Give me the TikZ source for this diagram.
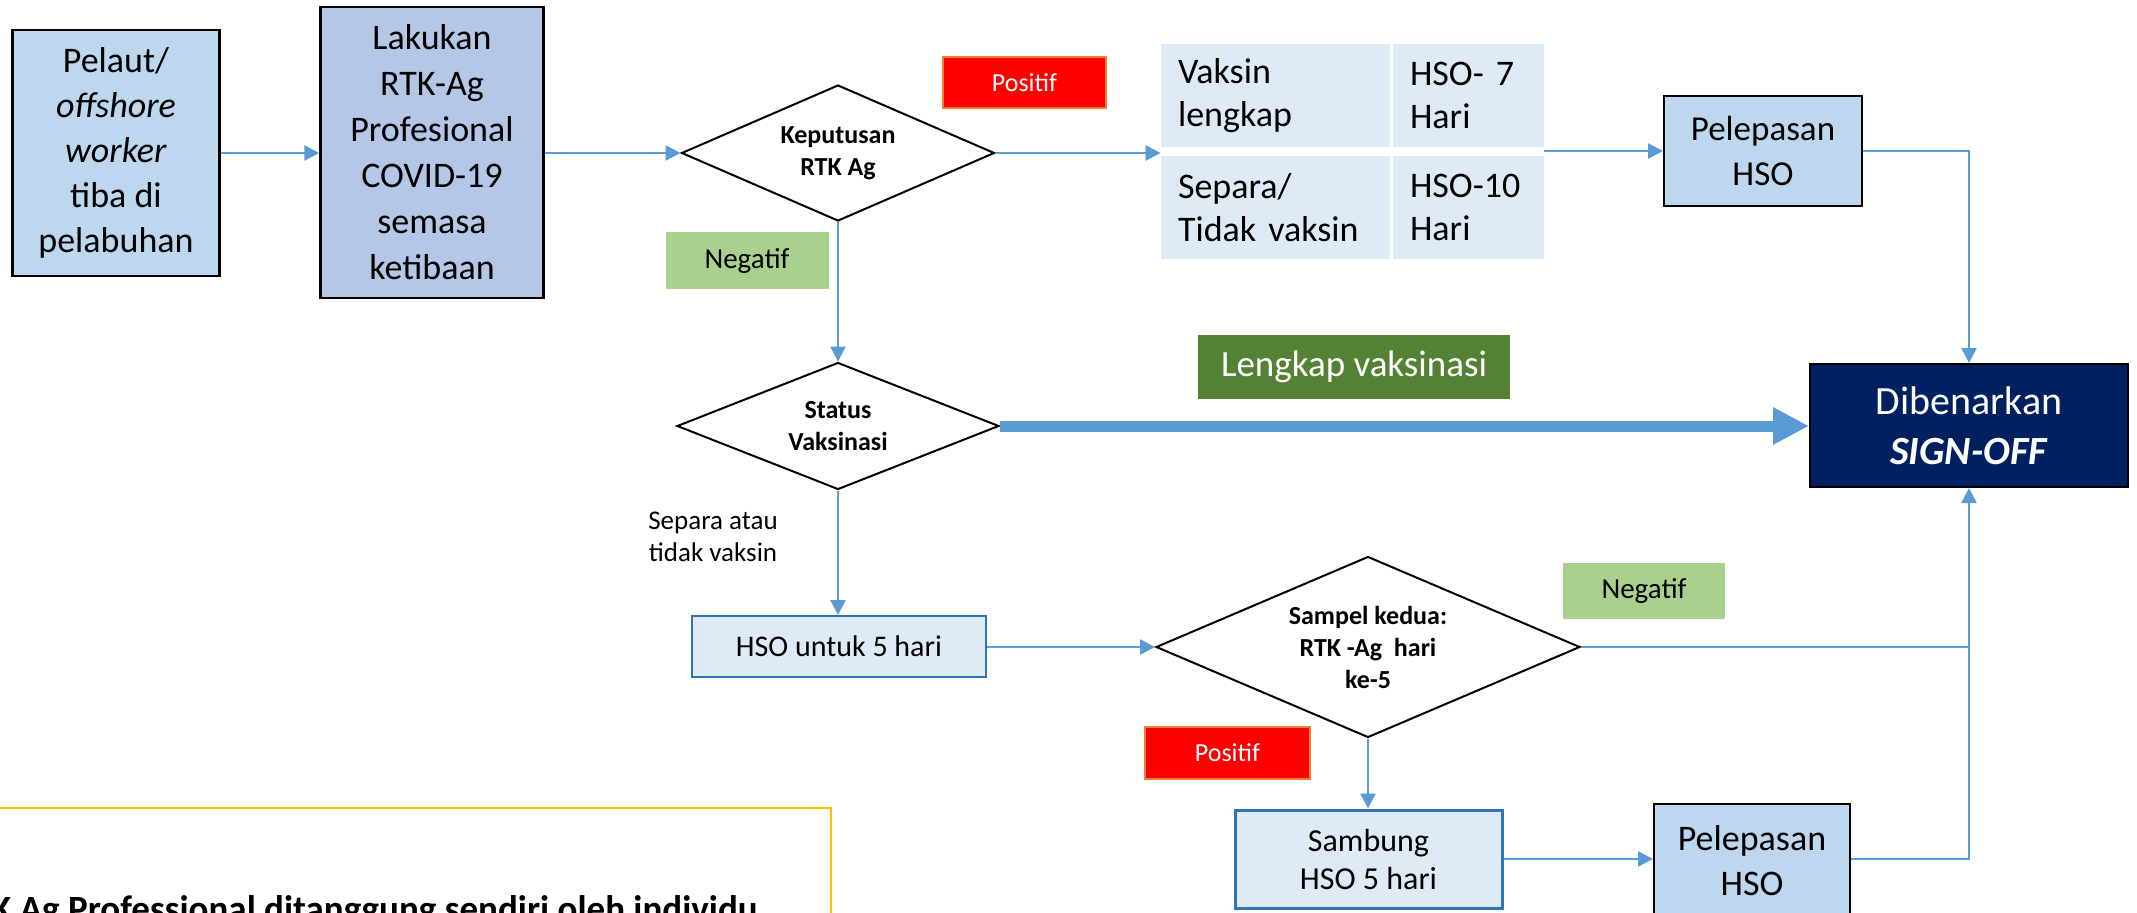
\documentclass[tikz,border=0pt]{standalone}
\usepackage{fontspec}
\setmainfont{Carlito}
\usetikzlibrary{shapes.geometric,arrows.meta,fit}
\definecolor{arr}{HTML}{5B9BD5}
\definecolor{boxA}{HTML}{BDD7EE}
\definecolor{boxB}{HTML}{B4C7E7}
\definecolor{cellC}{HTML}{DEEBF7}
\definecolor{edgeB}{HTML}{2E75B6}
\definecolor{navy}{HTML}{002060}
\definecolor{dgreen}{HTML}{548235}
\definecolor{lgreen}{HTML}{A9D18E}
\definecolor{redF}{HTML}{FF0000}
\definecolor{orangeE}{HTML}{ED7D31}
\definecolor{yel}{HTML}{FFC000}
\newcommand{\fs}[2]{\fontsize{#1}{#2}\selectfont}
\begin{document}
\begin{tikzpicture}[x=1pt,y=-1pt,
  box/.style={rectangle,draw=black,line width=2.5pt,align=center,inner sep=0pt},
  dec/.style={diamond,draw=black,line width=2pt,fill=white,inner sep=0pt,align=center,font=\bfseries\fs{26}{32}},
  tag/.style={rectangle,inner sep=0pt,align=center},
  cell/.style={rectangle,fill=cellC,inner xsep=17pt,inner ysep=0pt,align=left,font=\fs{36}{43}},
  conn/.style={draw=arr,line width=2.5pt,-{Triangle[length=15pt,width=15pt]}},
  wire/.style={draw=arr,line width=2.5pt},
  big/.style={draw=arr,line width=11pt,-{Triangle[length=36pt,width=35pt]}}]
\useasboundingbox (0,0) rectangle (2137,913);
\clip (0,0) rectangle (2137,913);

% boxes
\node[box,fill=boxA,minimum width=207pt,minimum height=246pt,font=\fs{36}{45}] (pel) at (116,153)
  {Pelaut/\\\textit{offshore}\\\textit{worker}\\tiba di\\pelabuhan};
\node[box,fill=boxB,minimum width=223pt,minimum height=291pt,font=\fs{36}{46}] (lak) at (432,152.5)
  {Lakukan\\RTK-Ag\\Profesional\\COVID-19\\semasa\\ketibaan};
\node[dec,shape aspect=2.3,minimum width=313pt,minimum height=136pt] (d1) at (838,153) {Keputusan\\RTK Ag};
\node[tag,fill=redF,draw=orangeE,line width=1.5pt,minimum width=163pt,minimum height=51pt,text=white,font=\fs{26}{30}] (pos1) at (1024.5,82.5) {Positif};
\node[tag,fill=lgreen,minimum width=163pt,minimum height=57pt,font=\fs{29}{33}] (neg1) at (747,260.5) {Negatif};

% table
\node[cell,text width=195pt,minimum height=103pt] (c11) at (1275.5,95.5) {Vaksin\\lengkap};
\node[cell,text width=117pt,minimum height=103pt] (c12) at (1468.5,95.5) {HSO- 7\\Hari};
\node[cell,text width=195pt,minimum height=103pt] (c21) at (1275.5,207.5) {Separa/\\Tidak vaksin};
\node[cell,text width=117pt,minimum height=103pt] (c22) at (1468.5,207.5) {HSO-10\\Hari};
\node[fit=(c11)(c22),inner sep=0pt] (tbl) {};

\node[box,fill=boxA,line width=2pt,minimum width=198pt,minimum height=110pt,font=\fs{35}{45}] (pel1) at (1763,151) {Pelepasan\\HSO};
\node[box,fill=navy,line width=2pt,minimum width=318pt,minimum height=123pt,text=white,font=\fs{40}{50}] (dib) at (1969,425.5)
  {Dibenarkan\\\textbf{\textit{SIGN-OFF}}};
\node[tag,fill=dgreen,minimum width=312pt,minimum height=64pt,text=white,font=\fs{37}{40}] (lv) at (1354,367) {Lengkap vaksinasi};

\node[dec,shape aspect=2.54,minimum width=322pt,minimum height=127pt] (d2) at (838,426) {Status\\Vaksinasi};
\node[tag,font=\fs{27}{32}] (sep) at (713,537) {Separa atau\\tidak vaksin};
\node[box,fill=cellC,draw=edgeB,line width=2pt,minimum width=294pt,minimum height=61pt,font=\fs{30}{36}] (hso5) at (839,646.5) {HSO untuk 5 hari};

\node[dec,shape aspect=2.34,minimum width=424pt,minimum height=181pt] (d3) at (1368,647) {Sampel kedua:\\RTK -Ag\ \ hari\\ke-5};
\node[tag,fill=lgreen,minimum width=162pt,minimum height=56pt,font=\fs{29}{33}] (neg2) at (1644,591) {Negatif};
\node[tag,fill=redF,draw=orangeE,line width=1.5pt,minimum width=165pt,minimum height=52pt,text=white,font=\fs{26}{30}] (pos2) at (1227.5,753) {Positif};
\node[box,fill=cellC,draw=edgeB,line width=3pt,minimum width=267pt,minimum height=98pt,font=\fs{32}{38}] (sam) at (1368.5,859) {Sambung\\HSO 5 hari};
\node[box,fill=boxA,line width=2pt,minimum width=196pt,minimum height=114pt,font=\fs{36}{45}] (pel2) at (1752,861) {Pelepasan\\HSO};

% note box (cut by the page edge)
\node[rectangle,draw=yel,line width=2pt,minimum width=851pt,minimum height=160pt,inner sep=0pt] (note) at (405.5,888) {};
\node[anchor=base west,inner sep=0pt,font=\bfseries\fs{37}{44}] (notetxt) at (-9,921) {K Ag Professional ditanggung sendiri oleh individu};

% connectors
\coordinate (j1) at (1969,151);
\coordinate (j2) at (1969,647);
\coordinate (j3) at (1969,859);
\draw[conn] (pel.east |- 0,153) -- (lak.west |- 0,153);
\draw[conn] (lak.east |- d1.west) -- (d1.west);
\draw[conn] (d1.east) -- (tbl.west |- d1.east);
\draw[conn] (tbl.east |- pel1.west) -- (pel1.west);
\draw[conn] (pel1.east) -- (j1) -- (dib.north);
\draw[conn] (d1.south) -- (d2.north);
\draw[big] (d2.east) -- (dib.west |- d2.east);
\draw[conn] (d2.south) -- (d2.south |- hso5.north);
\draw[conn] (hso5.east |- d3.west) -- (d3.west);
\draw[wire] (d3.east) -- (j2);
\draw[conn] (d3.south) -- (d3.south |- sam.north);
\draw[conn] (sam.east) -- (sam.east -| pel2.west);
\draw[conn] (sam.east -| pel2.east) -- (j3) -- (dib.south);
\end{tikzpicture}
\end{document}
